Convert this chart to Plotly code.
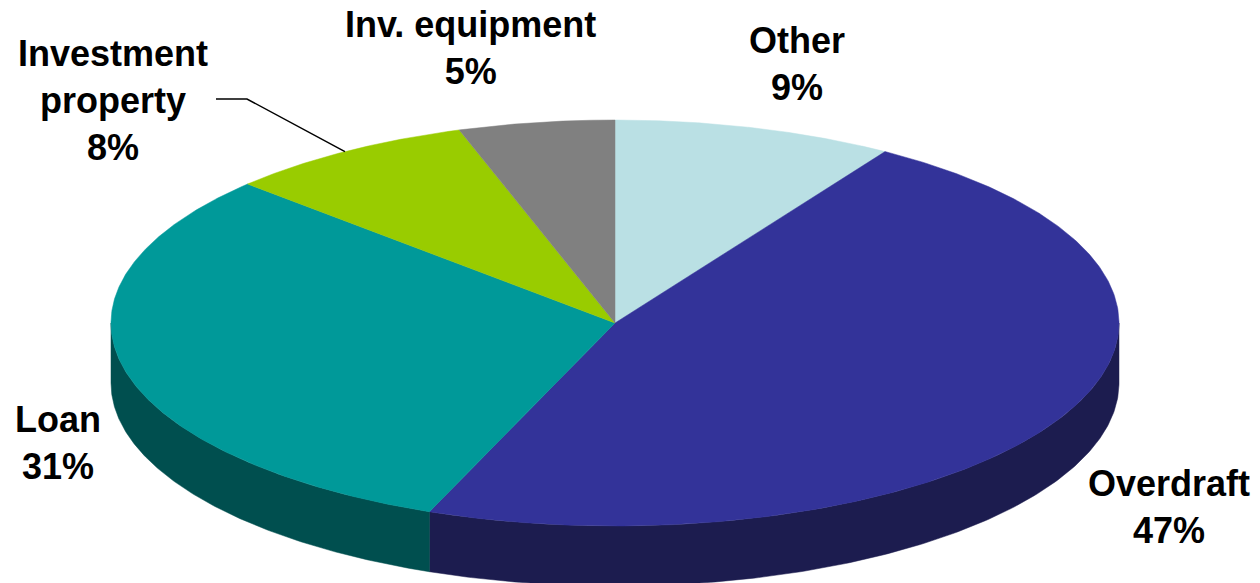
import numpy as np
import plotly.graph_objects as go

# ---- data ----
categories = ["Other", "Overdraft", "Loan", "Investment property", "Inv. equipment"]
shares = [9, 47, 31, 8, 5]
label_text = ["Other", "Overdraft", "Loan", "Investment<br>property", "Inv. equipment"]

# ---- styles / layout ----
top_colors = ["#BAE0E4", "#333399", "#009999", "#99CC00", "#808080"]
side_colors = ["#6F8689", "#1C1C4F", "#004F4F", "#5A7800", "#4A4A4A"]
label_pos = [(797, 64), (1169, 507), (58, 443), (113, 100), (470, 48)]
leader_pts = [(216, 99), (247, 99)]  # label side of leader for Investment property

W, H = 1260, 583
CX, CY, RX, RY, DEPTH = 615, 323, 504, 203, 60
FONT = "Liberation Sans, Arial, sans-serif"
FS = 36


def ell(t, dy=0.0):
    return CX + RX * np.sin(t), CY - RY * np.cos(t) + dy


total = float(sum(shares))
bounds = np.concatenate([[0.0], np.cumsum(shares) / total]) * 2 * np.pi

fig = go.Figure()

# sides (front half only: angles pi/2 .. 3pi/2)
for i in range(len(shares)):
    a = max(bounds[i], np.pi / 2)
    b = min(bounds[i + 1], 3 * np.pi / 2)
    if b <= a:
        continue
    t = np.linspace(a, b, 200)
    xt, yt = ell(t)
    xb, yb = ell(t[::-1], DEPTH)
    fig.add_trace(go.Scatter(
        x=np.concatenate([xt, xb, xt[:1]]), y=np.concatenate([yt, yb, yt[:1]]),
        mode="lines", fill="toself", fillcolor=side_colors[i],
        line=dict(width=0.5, color=side_colors[i]), hoverinfo="skip", showlegend=False))

# top faces
for i in range(len(shares)):
    t = np.linspace(bounds[i], bounds[i + 1], 300)
    xt, yt = ell(t)
    fig.add_trace(go.Scatter(
        x=np.concatenate([[CX], xt, [CX]]), y=np.concatenate([[CY], yt, [CY]]),
        mode="lines", fill="toself", fillcolor=top_colors[i],
        line=dict(width=0.5, color=top_colors[i]), hoverinfo="text",
        text=f"{categories[i]}: {shares[i]}%", showlegend=False))

# leader line for Investment property
k = categories.index("Investment property")
mx, my = ell((bounds[k] + bounds[k + 1]) / 2)
fig.add_trace(go.Scatter(
    x=[leader_pts[0][0], leader_pts[1][0], mx], y=[leader_pts[0][1], leader_pts[1][1], my],
    mode="lines", line=dict(color="black", width=1.5), hoverinfo="skip", showlegend=False))

for i in range(len(shares)):
    fig.add_annotation(
        x=label_pos[i][0], y=label_pos[i][1], xref="x", yref="y",
        text=f"<b>{label_text[i]}<br>{shares[i]}%</b>", showarrow=False,
        xanchor="center", yanchor="middle", align="center",
        font=dict(family=FONT, size=FS, color="black"))

fig.update_layout(
    width=W, height=H, margin=dict(l=0, r=0, t=0, b=0),
    paper_bgcolor="white", plot_bgcolor="white",
    xaxis=dict(range=[0, W], visible=False, fixedrange=True),
    yaxis=dict(range=[H, 0], visible=False, fixedrange=True),
)

fig.write_html(
    "out.html",
    config={"displayModeBar": False},
    post_script="document.body.style.margin='0';document.body.style.overflow='hidden';",
)
